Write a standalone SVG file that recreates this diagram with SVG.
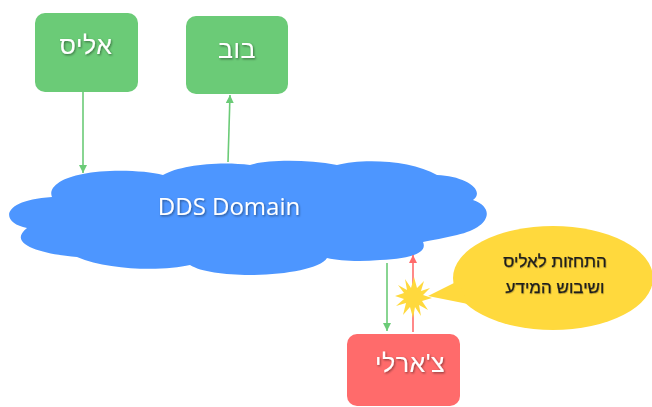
<svg xmlns="http://www.w3.org/2000/svg" width="652" height="407" viewBox="0 0 652 407">
  <defs>
    <style>
      .box-green { fill: #6BCB77; }
      .box-red { fill: #FF6B6B; }
      .cloud { fill: #4D96FF; }
      .bubble { fill: #FFD93D; }
      .label { font-family: "Liberation Sans", "DejaVu Sans", sans-serif; fill: #ffffff; text-anchor: middle; }
      .node-label { font-size: 25px; letter-spacing: 0.5px; }
      .cloud-label { font-family: "Open Sans", "Liberation Sans", sans-serif; font-size: 24px; }
      .note { font-family: "Liberation Sans", "DejaVu Sans", sans-serif; font-size: 17px; fill: #1f1f1f; text-anchor: middle; stroke: #1f1f1f; stroke-width: 0.25; }
      .edge-green { stroke: #6BCB77; stroke-width: 1.6; fill: none; }
      .edge-red { stroke: #FF6B6B; stroke-width: 1.6; fill: none; }
    </style>
    <filter id="shadow" x="-20%" y="-20%" width="140%" height="160%">
      <feDropShadow dx="1" dy="1.2" stdDeviation="0.9" flood-color="#000000" flood-opacity="0.45"/>
    </filter>
    <filter id="soft-shadow" x="-20%" y="-20%" width="140%" height="160%">
      <feDropShadow dx="0.6" dy="0.8" stdDeviation="0.7" flood-color="#000000" flood-opacity="0.3"/>
    </filter>
    <marker id="head-green" viewBox="0 0 10 10" refX="10" refY="5" markerWidth="8" markerHeight="8" markerUnits="userSpaceOnUse" orient="auto">
      <path d="M0,0 L10,5 L0,10 z" fill="#6BCB77"/>
    </marker>
    <marker id="head-red" viewBox="0 0 10 10" refX="10" refY="5" markerWidth="8" markerHeight="8" markerUnits="userSpaceOnUse" orient="auto">
      <path d="M0,0 L10,5 L0,10 z" fill="#FF6B6B"/>
    </marker>
  </defs>

  <!-- Shared network cloud -->
  <g id="dds-domain">
    <path class="cloud" d="M52,197
      C48,188 60,178 83,174
      C105,169 145,170 163,175
      C180,165 220,161 250,165
      C265,160 305,159 337,165
      C362,158 412,160 437,175
      C465,176 486,190 473,200
      C496,208 490,228 457,235
      C445,238 432,240 423,242
      C428,253 410,259 380,260
      C360,262 340,261 327,258
      C315,277 215,281 190,265
      C165,271 110,271 77,257
      C50,255 4,246 27,228
      C0,223 0,200 52,197 Z"/>
    <text class="label cloud-label" x="229" y="215" filter="url(#shadow)">DDS Domain</text>
  </g>

  <!-- Participants -->
  <g id="alice">
    <rect class="box-green" x="35" y="13" width="103" height="79" rx="10"/>
    <text class="label node-label" x="86" y="54" filter="url(#shadow)">אליס</text>
  </g>

  <g id="bob">
    <rect class="box-green" x="186" y="16" width="102" height="78" rx="10"/>
    <text class="label node-label" x="237" y="58" filter="url(#shadow)">בוב</text>
  </g>

  <g id="charlie">
    <rect class="box-red" x="347" y="334" width="113" height="72" rx="10"/>
    <text class="label node-label" x="410" y="372" filter="url(#shadow)">צ'ארלי</text>
  </g>

  <!-- Data flows -->
  <g id="connectors">
    <line class="edge-green" x1="83" y1="92" x2="83" y2="173" marker-end="url(#head-green)"/>
    <line class="edge-green" x1="228" y1="162" x2="230" y2="95" marker-end="url(#head-green)"/>
    <line class="edge-green" x1="387" y1="263" x2="387" y2="331" marker-end="url(#head-green)"/>
    <line class="edge-red" x1="413" y1="332" x2="413" y2="255" marker-end="url(#head-red)"/>
  </g>

  <!-- Interception callout -->
  <g id="attack-note">
    <polygon class="bubble" points="432,298 422,301 428,310 419,305 421,316 415,307 413,318 410,307 403,315 406,303 396,306 404,299 395,296 404,293 398,285 407,290 405,279 411,288 414,277 417,288 424,281 421,291 430,288 423,295"/>
    <ellipse class="bubble" cx="553" cy="278" rx="100" ry="52"/>
    <polygon class="bubble" points="428,296 458,281 468,304"/>
    <text class="note" x="555" y="267" filter="url(#soft-shadow)">התחזות לאליס</text>
    <text class="note" x="555" y="293" filter="url(#soft-shadow)">ושיבוש המידע</text>
  </g>
</svg>
